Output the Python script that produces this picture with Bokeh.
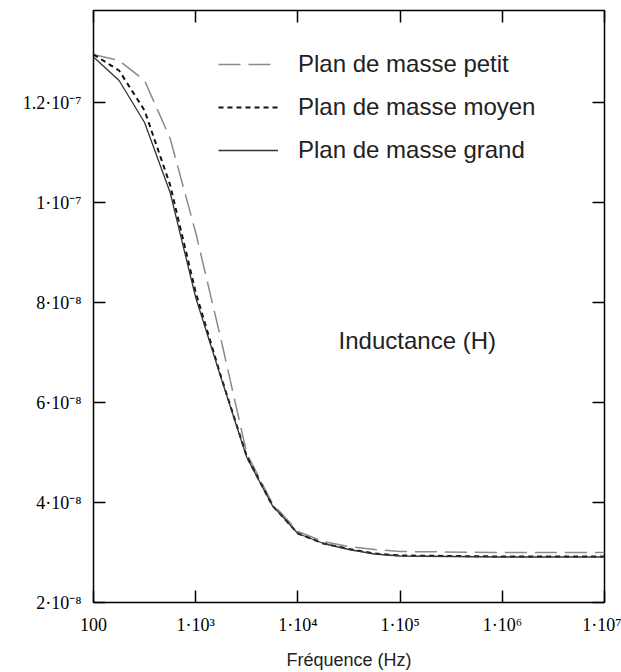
from bokeh.plotting import figure
from bokeh.models import (Range1d, FixedTicker, CustomJSTickFormatter, LogAxis, LinearAxis,
                          Legend, LegendItem, Label)
from bokeh.embed import file_html
from bokeh.resources import INLINE

# ---------------- data ----------------
freq = [100, 178, 316, 562, 1000, 1778, 3162, 5623, 1.0e4, 1.78e4, 3.16e4, 5.62e4, 1.0e5, 1.0e6, 1.0e7]
l_petit = [12.96e-8, 12.84e-8, 12.44e-8, 11.28e-8, 9.4e-8, 7.24e-8, 4.98e-8, 3.98e-8, 3.42e-8,
           3.22e-8, 3.12e-8, 3.06e-8, 3.02e-8, 3.0e-8, 3.0e-8]
l_moyen = [12.96e-8, 12.64e-8, 11.84e-8, 10.35e-8, 8.2e-8, 6.5e-8, 4.92e-8, 3.94e-8, 3.38e-8,
           3.18e-8, 3.07e-8, 2.98e-8, 2.94e-8, 2.92e-8, 2.92e-8]
l_grand = [12.91e-8, 12.44e-8, 11.6e-8, 10.2e-8, 8.1e-8, 6.48e-8, 4.9e-8, 3.94e-8, 3.38e-8,
           3.18e-8, 3.06e-8, 2.97e-8, 2.93e-8, 2.91e-8, 2.91e-8]
series_names = ["Plan de masse petit", "Plan de masse moyen", "Plan de masse grand"]

x_ticks = [100, 1e3, 1e4, 1e5, 1e6, 1e7]
x_tick_labels = ["100", "1·10³", "1·10⁴", "1·10⁵", "1·10⁶", "1·10⁷"]
y_ticks = [2e-8, 4e-8, 6e-8, 8e-8, 1e-7, 1.2e-7]
y_tick_labels = ["2·10⁻⁸", "4·10⁻⁸", "6·10⁻⁸", "8·10⁻⁸", "1·10⁻⁷", "1.2·10⁻⁷"]

x_title = "Fréquence (Hz)"
y_title = "Inductance (H)"

# ---------------- figure ----------------
p = figure(x_axis_type="log", x_range=Range1d(100, 1e7), y_range=Range1d(2e-8, 1.384e-7),
           frame_width=511, frame_height=592, output_backend="svg", toolbar_location=None,
           min_border_left=93, min_border_right=17, min_border_top=10, min_border_bottom=66,
           background_fill_color="white", border_fill_color="white")
p.grid.visible = False
p.outline_line_color = "black"
p.outline_line_width = 1.5

code = """
const i = vals.findIndex(v => Math.abs(v - tick) <= 1e-6 * Math.abs(v));
return i >= 0 ? labels[i] : "";
"""
xfmt = CustomJSTickFormatter(args=dict(vals=x_ticks, labels=x_tick_labels), code=code)
yfmt = CustomJSTickFormatter(args=dict(vals=y_ticks, labels=y_tick_labels), code=code)
blank = CustomJSTickFormatter(code="return '';")

def style_axis(ax, fmt, ticks):
    ax.ticker = FixedTicker(ticks=ticks, minor_ticks=[])
    ax.formatter = fmt
    ax.axis_line_color = None
    ax.major_tick_in = 12
    ax.major_tick_out = 0
    ax.minor_tick_in = 0
    ax.minor_tick_out = 0
    ax.major_tick_line_color = "black"
    ax.major_tick_line_width = 1.5
    ax.major_label_text_font = "Liberation Serif"
    ax.major_label_text_font_size = "18px"
    ax.major_label_text_color = "black"

xa = p.xaxis[0]
style_axis(xa, xfmt, x_ticks)
xa.major_label_standoff = 12
xa.axis_label = x_title
xa.axis_label_text_font = "Liberation Sans"
xa.axis_label_text_font_size = "18px"
xa.axis_label_text_font_style = "normal"
xa.axis_label_text_color = "#222222"
xa.axis_label_standoff = 12

ya = p.yaxis[0]
style_axis(ya, yfmt, y_ticks)
ya.major_label_standoff = 12

top = LogAxis()
style_axis(top, blank, x_ticks)
top.major_label_standoff = 0
p.add_layout(top, "above")

right = LinearAxis()
style_axis(right, blank, y_ticks)
right.major_label_standoff = 0
p.add_layout(right, "right")

r_petit = p.line(freq, l_petit, line_color="#8a8a8a", line_width=1.5, line_dash="22 8")
r_moyen = p.line(freq, l_moyen, line_color="#111111", line_width=2, line_dash="5 4")
r_grand = p.line(freq, l_grand, line_color="#333333", line_width=1.3)

legend = Legend(items=[LegendItem(label=series_names[0], renderers=[r_petit]),
                       LegendItem(label=series_names[1], renderers=[r_moyen]),
                       LegendItem(label=series_names[2], renderers=[r_grand])],
                location=(125, 438), orientation="vertical",
                glyph_width=60, glyph_height=20, label_height=20, label_standoff=20,
                spacing=15, padding=0, margin=0,
                border_line_color=None, background_fill_alpha=0,
                label_text_font="Liberation Sans", label_text_font_size="24px",
                label_text_color="#222222")
p.add_layout(legend, "center")

p.add_layout(Label(x=2.5e4, y=7.24e-8, text=y_title, text_font="Liberation Sans",
                   text_font_size="24px", text_color="#222222", text_baseline="middle",
                   text_align="left"))

open("out.html", "w").write(file_html(p, INLINE))
